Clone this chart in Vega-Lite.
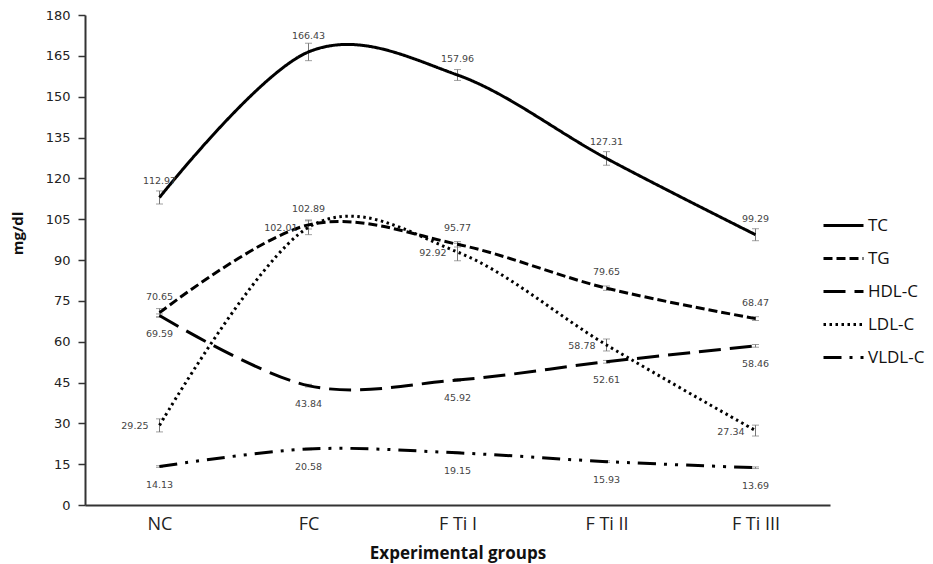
{
  "$schema": "https://vega.github.io/schema/vega-lite/v6.json",
  "autosize": "none",
  "width": 745,
  "height": 490,
  "padding": {"left": 85, "top": 15, "right": 103, "bottom": 59},
  "background": "white",
  "config": {"view": {"stroke": null}},
  "data": {
    "values": [
      {"group": "NC", "series": "TC", "value": 112.97, "se": 2.4},
      {"group": "FC", "series": "TC", "value": 166.43, "se": 3.2},
      {"group": "F Ti I", "series": "TC", "value": 157.96, "se": 2.0},
      {"group": "F Ti II", "series": "TC", "value": 127.31, "se": 2.5},
      {"group": "F Ti III", "series": "TC", "value": 99.29, "se": 2.2},
      {"group": "NC", "series": "TG", "value": 70.65, "se": 1.5},
      {"group": "FC", "series": "TG", "value": 102.89, "se": 1.5},
      {"group": "F Ti I", "series": "TG", "value": 95.77, "se": 1.0},
      {"group": "F Ti II", "series": "TG", "value": 79.65, "se": 0.8},
      {"group": "F Ti III", "series": "TG", "value": 68.47, "se": 0.7},
      {"group": "NC", "series": "HDL-C", "value": 69.59, "se": 0.6},
      {"group": "FC", "series": "HDL-C", "value": 43.84, "se": 0.5},
      {"group": "F Ti I", "series": "HDL-C", "value": 45.92, "se": 0.5},
      {"group": "F Ti II", "series": "HDL-C", "value": 52.61, "se": 0.5},
      {"group": "F Ti III", "series": "HDL-C", "value": 58.46, "se": 0.5},
      {"group": "NC", "series": "LDL-C", "value": 29.25, "se": 2.4},
      {"group": "FC", "series": "LDL-C", "value": 102.01, "se": 2.7},
      {"group": "F Ti I", "series": "LDL-C", "value": 92.92, "se": 3.2},
      {"group": "F Ti II", "series": "LDL-C", "value": 58.78, "se": 2.2},
      {"group": "F Ti III", "series": "LDL-C", "value": 27.34, "se": 2.0},
      {"group": "NC", "series": "VLDL-C", "value": 14.13, "se": 0.3},
      {"group": "FC", "series": "VLDL-C", "value": 20.58, "se": 0.3},
      {"group": "F Ti I", "series": "VLDL-C", "value": 19.15, "se": 0.3},
      {"group": "F Ti II", "series": "VLDL-C", "value": 15.93, "se": 0.3},
      {"group": "F Ti III", "series": "VLDL-C", "value": 13.69, "se": 0.3}
    ]
  },
  "encoding": {
    "x": {
      "field": "group",
      "type": "nominal",
      "sort": ["NC", "FC", "F Ti I", "F Ti II", "F Ti III"],
      "scale": {"type": "point", "padding": 0.5},
      "axis": {
        "title": "Experimental groups",
        "titleFont": "Open Sans",
        "titleFontSize": 17,
        "titleFontWeight": "bold",
        "titleColor": "#111",
        "titlePadding": 12,
        "labelFont": "Open Sans",
        "labelFontSize": 18,
        "labelColor": "#222",
        "labelAngle": 0,
        "labelPadding": 10,
        "ticks": false,
        "domainColor": "#333",
        "domainWidth": 2,
        "grid": false
      }
    },
    "y": {
      "field": "value",
      "type": "quantitative",
      "scale": {"domain": [0, 180], "nice": false},
      "axis": {
        "title": "mg/dl",
        "titleFont": "Open Sans",
        "titleFontSize": 15,
        "titleFontWeight": "bold",
        "titleColor": "#111",
        "titleX": -60,
        "titleY": 218,
        "values": [0, 15, 30, 45, 60, 75, 90, 105, 120, 135, 150, 165, 180],
        "labelFont": "DejaVu Sans",
        "labelFontSize": 13,
        "labelColor": "#222",
        "labelPadding": 8,
        "tickSize": 7,
        "tickColor": "#333",
        "tickWidth": 1.5,
        "domainColor": "#333",
        "domainWidth": 2,
        "grid": false
      }
    }
  },
  "layer": [
    {
      "mark": {"type": "errorbar", "ticks": {"size": 7, "color": "#777"}, "color": "#777", "thickness": 1},
      "encoding": {
        "y": {"field": "value", "type": "quantitative"},
        "yError": {"field": "se"}
      }
    },
    {
      "mark": {"type": "line", "interpolate": "cardinal", "color": "black", "strokeWidth": 3},
      "encoding": {
        "detail": {"field": "series"},
        "strokeDash": {
          "field": "series",
          "type": "nominal",
          "scale": {
            "domain": ["TC", "TG", "HDL-C", "LDL-C", "VLDL-C"],
            "range": [[1, 0], [9, 4], [22, 9], [2.5, 3.5], [18, 8, 3, 8, 3, 8]]
          },
          "legend": {
            "title": null,
            "orient": "none",
            "legendX": 737,
            "legendY": 189,
            "padding": 0,
            "symbolType": "stroke",
            "symbolSize": 1600,
            "symbolStrokeWidth": 3,
            "symbolStrokeColor": "black",
            "rowPadding": 3,
            "labelFont": "Open Sans",
            "labelFontSize": 17,
            "labelColor": "#111",
            "labelOffset": 3
          }
        }
      }
    },
    {
      "transform": [{"filter": "datum.series === 'TC' || datum.series === 'TG'"}],
      "mark": {"type": "text", "dy": -16, "font": "DejaVu Sans", "fontSize": 9.5, "color": "#444"},
      "encoding": {"text": {"field": "value", "type": "quantitative", "format": ".2f"}}
    },
    {
      "transform": [{"filter": "datum.series === 'HDL-C' || datum.series === 'VLDL-C'"}],
      "mark": {"type": "text", "dy": 18, "font": "DejaVu Sans", "fontSize": 9.5, "color": "#444"},
      "encoding": {"text": {"field": "value", "type": "quantitative", "format": ".2f"}}
    },
    {
      "transform": [{"filter": "datum.series === 'LDL-C'"}],
      "mark": {"type": "text", "dx": -11, "dy": 1, "align": "right", "font": "DejaVu Sans", "fontSize": 9.5, "color": "#444"},
      "encoding": {"text": {"field": "value", "type": "quantitative", "format": ".2f"}}
    }
  ]
}
